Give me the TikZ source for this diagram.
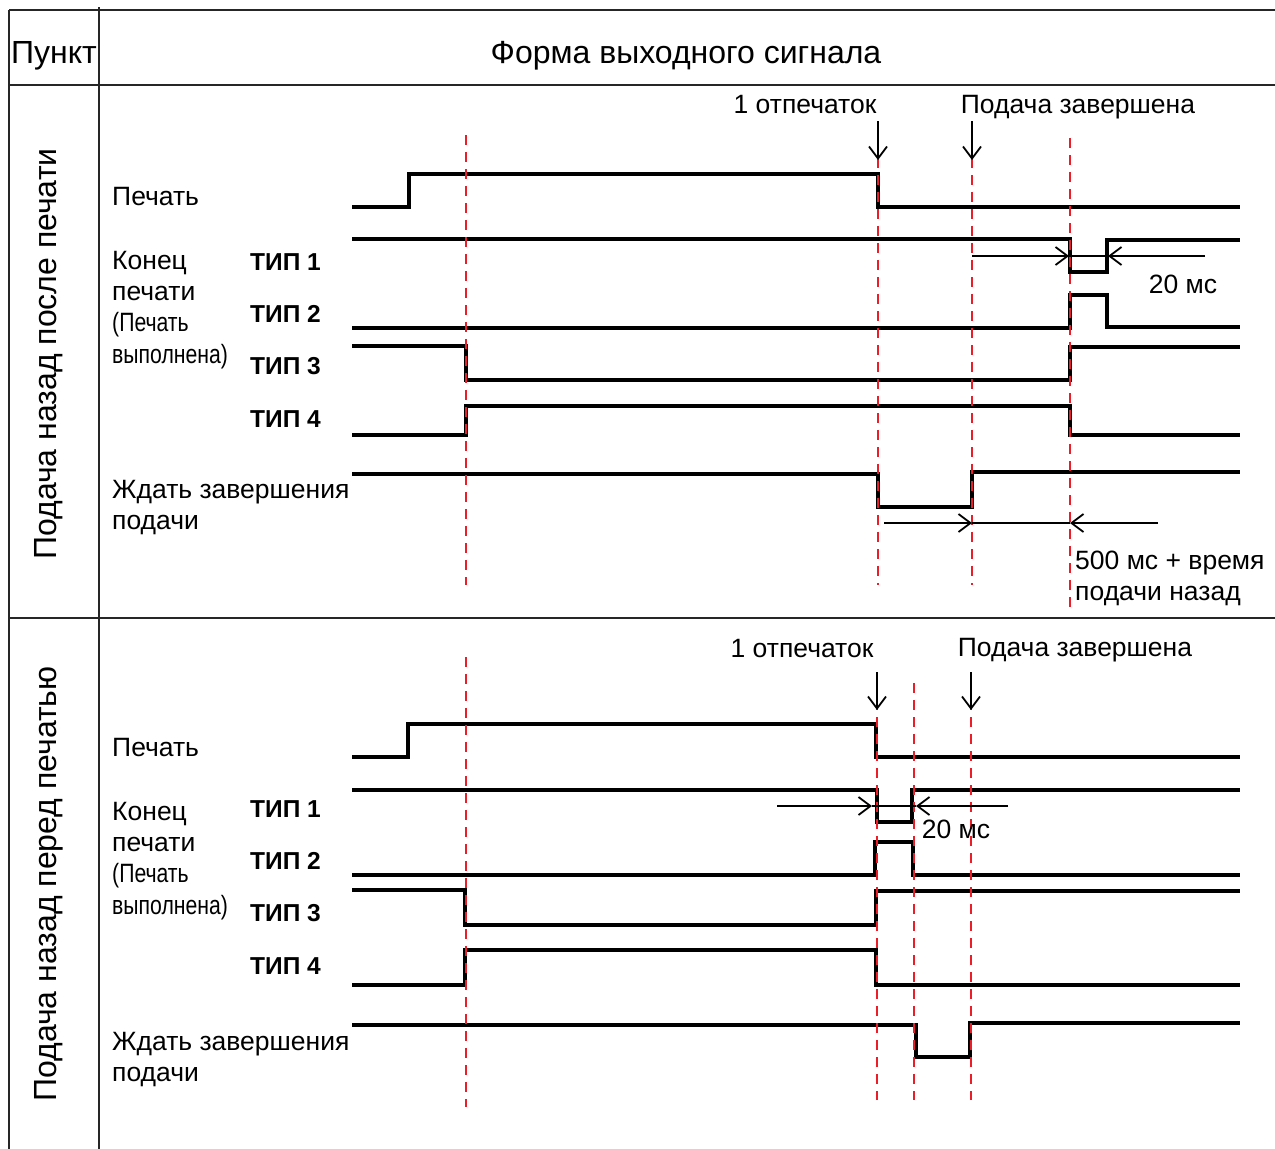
\documentclass[tikz,border=0pt]{standalone}
\usepackage{fontspec}
\setmainfont{Liberation Sans}
\newfontfamily\narrowfont[FakeStretch=0.80]{Liberation Sans}
\usetikzlibrary{arrows.meta,positioning}
\definecolor{guidered}{RGB}{235,30,40}

\begin{document}
\begin{tikzpicture}[
    x=1pt, y=-1pt,
    frame/.style={line width=1.5pt, draw=black!85},
    sig/.style={line width=3.5pt},
    guide/.style={draw=guidered, line width=2.2pt, dash pattern=on 10pt off 7pt},
    pointer/.style={-{Straight Barb[length=12pt,width=18pt]}, line width=1.8pt},
    tick/.style={line width=1.2pt},
    head/.style={font=\fontsize{32}{38}\selectfont, inner sep=0pt},
    lbl/.style={font=\fontsize{26.5}{31}\selectfont, inner sep=0pt,
                text height=18pt, text depth=6pt},
    narrow/.style={lbl, font=\narrowfont\fontsize{26.5}{31}\selectfont},
    typ/.style={font=\bfseries\fontsize{24.5}{30}\selectfont, inner sep=0pt,
                text height=18pt, text depth=0pt}
]
\useasboundingbox (0,0) rectangle (1275,1149);

% table
\draw[frame] (9,10) -- (1275,10);
\draw[frame] (9,10) -- (9,1149);
\draw[frame] (99,7) -- (99,1149);
\draw[frame] (9,85) -- (1275,85);
\draw[frame] (9,618) -- (1275,618);
\node[head, anchor=base] (itemH) at (54,63) {Пункт};
\node[head, anchor=base] (formH) at (686,63) {Форма выходного сигнала};
\node[head, rotate=90, anchor=base] (secA) at (56,354) {Подача назад после печати};
\node[head, rotate=90, anchor=base] (secB) at (56,884) {Подача назад перед печатью};

% --- feed back after printing
\node[lbl, anchor=base west] (prnA) at (112,205) {Печать};
\node[lbl, anchor=base west] (konA) at (112,269) {Конец};
\node[lbl, below=7pt of konA.south west, anchor=north west] (pecA) {печати};
\node[narrow, below=7pt of pecA.south west, anchor=north west] (doneA1) {(Печать};
\node[narrow, below=7pt of doneA1.south west, anchor=north west] (doneA2) {выполнена)};
\node[typ, anchor=base west] (typA1) at (250,270) {ТИП 1};
\node[typ, below=34pt of typA1] (typA2) {ТИП 2};
\node[typ, below=34pt of typA2] (typA3) {ТИП 3};
\node[typ, below=34pt of typA3] (typA4) {ТИП 4};
\node[lbl, anchor=base west] (waitA) at (112,498) {Ждать завершения};
\node[lbl, below=7pt of waitA.south west, anchor=north west] (feedA) {подачи};

\draw[sig] (352,207) -| (409,174) -| (878,207) -- (1240,207);
\draw[sig] (352,239) -| (1070,272) -| (1107,240) -- (1240,240);
\draw[sig] (352,328) -| (1070,295) -| (1107,327) -- (1240,327);
\draw[sig] (352,346) -| (466,380) -| (1070,347) -- (1240,347);
\draw[sig] (352,435) -| (466,406) -| (1070,435) -- (1240,435);
\draw[sig] (352,474) -| (878,507) -| (972,472) -- (1240,472);

\draw[guide] (466,135) -- (466,585);
\draw[guide] (878,158) -- (878,585);
\draw[guide] (972,158) -- (972,585);
\draw[guide] (1070,138) -- (1070,614);

\node[lbl, anchor=base] (oneA) at (805,113) {1 отпечаток};
\node[lbl, anchor=base] (fedA) at (1078,113) {Подача завершена};
\coordinate (oneA1) at (878,121);
\coordinate (oneA2) at (878,160);
\coordinate (fedA1) at (972,121);
\coordinate (fedA2) at (972,160);
\draw[pointer] (oneA1) -- (oneA2);
\draw[pointer] (fedA1) -- (fedA2);

\coordinate (msA1) at (972,256);
\coordinate (msA2) at (1069,256);
\coordinate (msA3) at (1108,256);
\coordinate (msA4) at (1205,256);
\draw[pointer] (msA1) -- (msA2);
\draw[tick] (msA2) -- (msA3);
\draw[pointer] (msA4) -- (msA3);
\node[lbl, anchor=base] (msA) at (1183,293) {20 мс};

\coordinate (lagA1) at (884,523);
\coordinate (lagA2) at (972,523);
\coordinate (lagA3) at (1070,523);
\coordinate (lagA4) at (1158,523);
\draw[pointer] (lagA1) -- (lagA2);
\draw[tick] (lagA2) -- (lagA3);
\draw[pointer] (lagA4) -- (lagA3);
\node[lbl, anchor=base west] (lagA) at (1075,569) {500 мс + время};
\node[lbl, below=7pt of lagA.south west, anchor=north west] (lagAb) {подачи назад};

% --- feed back before printing
\node[lbl, anchor=base west] (prnB) at (112,756) {Печать};
\node[lbl, anchor=base west] (konB) at (112,820) {Конец};
\node[lbl, below=7pt of konB.south west, anchor=north west] (pecB) {печати};
\node[narrow, below=7pt of pecB.south west, anchor=north west] (doneB1) {(Печать};
\node[narrow, below=7pt of doneB1.south west, anchor=north west] (doneB2) {выполнена)};
\node[typ, anchor=base west] (typB1) at (250,817) {ТИП 1};
\node[typ, below=34pt of typB1] (typB2) {ТИП 2};
\node[typ, below=34pt of typB2] (typB3) {ТИП 3};
\node[typ, below=34pt of typB3] (typB4) {ТИП 4};
\node[lbl, anchor=base west] (waitB) at (112,1050) {Ждать завершения};
\node[lbl, below=7pt of waitB.south west, anchor=north west] (feedB) {подачи};

\draw[sig] (352,757) -| (408,724) -| (876,757) -- (1240,757);
\draw[sig] (352,790) -| (877,822) -| (912,790) -- (1240,790);
\draw[sig] (352,875) -| (875,842) -| (913,875) -- (1240,875);
\draw[sig] (352,890) -| (465,925) -| (876,891) -- (1240,891);
\draw[sig] (352,985) -| (465,950) -| (876,985) -- (1240,985);
\draw[sig] (352,1025) -| (916,1057) -| (970,1023) -- (1240,1023);

\draw[guide] (466,657) -- (466,1107);
\draw[guide] (877,683) -- (877,1100);
\draw[guide] (914,683) -- (914,1100);
\draw[guide] (971,683) -- (971,1100);

\node[lbl, anchor=base] (oneB) at (802,657) {1 отпечаток};
\node[lbl, anchor=base] (fedB) at (1075,656) {Подача завершена};
\coordinate (oneB1) at (877,672);
\coordinate (oneB2) at (877,710);
\coordinate (fedB1) at (971,672);
\coordinate (fedB2) at (971,710);
\draw[pointer] (oneB1) -- (oneB2);
\draw[pointer] (fedB1) -- (fedB2);

\coordinate (msB1) at (777,806);
\coordinate (msB2) at (872,806);
\coordinate (msB3) at (916,806);
\coordinate (msB4) at (1008,806);
\draw[pointer] (msB1) -- (msB2);
\draw[tick] (msB2) -- (msB3);
\draw[pointer] (msB4) -- (msB3);
\node[lbl, anchor=base] (msB) at (956,838) {20 мс};
\end{tikzpicture}
\end{document}
